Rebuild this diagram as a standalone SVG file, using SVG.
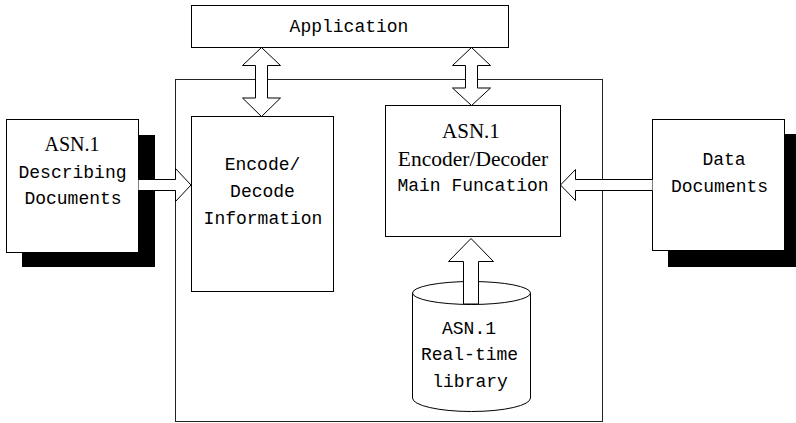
<svg xmlns="http://www.w3.org/2000/svg" width="796" height="423" viewBox="0 0 796 423">
<style>
.box{fill:#fff;stroke:#000;stroke-width:1}
.shadow{fill:#000;stroke:none}
.arrow{fill:#fff;stroke:#000;stroke-width:1;stroke-linejoin:miter}
.mono{font-family:"Liberation Mono","DejaVu Sans Mono",monospace;font-size:18px;fill:#000;text-anchor:middle}
.serif{font-family:"Liberation Serif","Times New Roman",serif;fill:#000;text-anchor:middle}
</style>
<rect width="796" height="423" fill="#fff"/>
<g id="container">
<rect x="175.5" y="79.5" width="427" height="342" fill="none" stroke="#222" stroke-width="1"/>
</g>
<g id="application">
<rect class="box" x="191.5" y="5.5" width="317" height="42"/>
<text class="mono" x="349" y="31.5">Application</text>
</g>
<g id="asn-describing">
<rect class="shadow" x="22" y="135" width="133" height="132"/>
<rect class="box" x="6.5" y="119.5" width="132" height="133"/>
<text class="serif" x="72" y="150.5" font-size="20">ASN.1</text>
<text class="mono" x="72.5" y="177.5">Describing</text>
<text class="mono" x="73" y="204">Documents</text>
</g>
<g id="encode-decode-info">
<rect class="box" x="191.5" y="116.5" width="142" height="175"/>
<text class="mono" x="262.5" y="169.5">Encode/</text>
<text class="mono" x="262.5" y="196.5">Decode</text>
<text class="mono" x="263" y="223.5">Information</text>
</g>
<g id="encoder-decoder">
<rect class="box" x="385.5" y="105.5" width="175" height="131"/>
<text class="serif" x="471" y="137.5" font-size="21">ASN.1</text>
<text class="serif" x="473" y="166" font-size="21.5">Encoder/Decoder</text>
<text class="mono" x="473" y="190.5">Main Funcation</text>
</g>
<g id="data-documents">
<rect class="shadow" x="668" y="134" width="128" height="133"/>
<rect class="box" x="652.5" y="119.5" width="132" height="131"/>
<text class="mono" x="724" y="165">Data</text>
<text class="mono" x="719.5" y="191.5">Documents</text>
</g>
<g id="realtime-library">
<path class="box" d="M412.5,293 V398 A59,13.5 0 0 0 530.5,398 V293"/>
<ellipse class="box" cx="471.5" cy="293" rx="59" ry="11.5"/>
<text class="mono" x="469" y="333.5">ASN.1</text>
<text class="mono" x="469.5" y="360">Real-time</text>
<text class="mono" x="470" y="386.5">library</text>
</g>
<g id="connectors">
<path class="arrow" d="M261.5,47.5 L280.5,65.5 L267.5,65.5 L267.5,98 L280.5,98 L261.5,116.5 L242.5,98 L255.5,98 L255.5,65.5 L242.5,65.5 Z"/>
<path class="arrow" d="M471.5,47.5 L490.5,65.5 L477.5,65.5 L477.5,88 L490.5,88 L471.5,105.5 L452.5,88 L465.5,88 L465.5,65.5 L452.5,65.5 Z"/>
<path class="arrow" d="M471,238.5 L493.5,261.5 L478.5,261.5 L478.5,304 L463.5,304 L463.5,261.5 L448.5,261.5 Z"/>
<path class="arrow" d="M138.5,179.5 H175.5 V168.5 L191,185 L175.5,201.5 V190.5 H138.5"/>
<path class="arrow" d="M652.5,179.5 H575.5 V169.5 L560.5,185 L575.5,200.5 V190.5 H652.5"/>
</g>
</svg>
